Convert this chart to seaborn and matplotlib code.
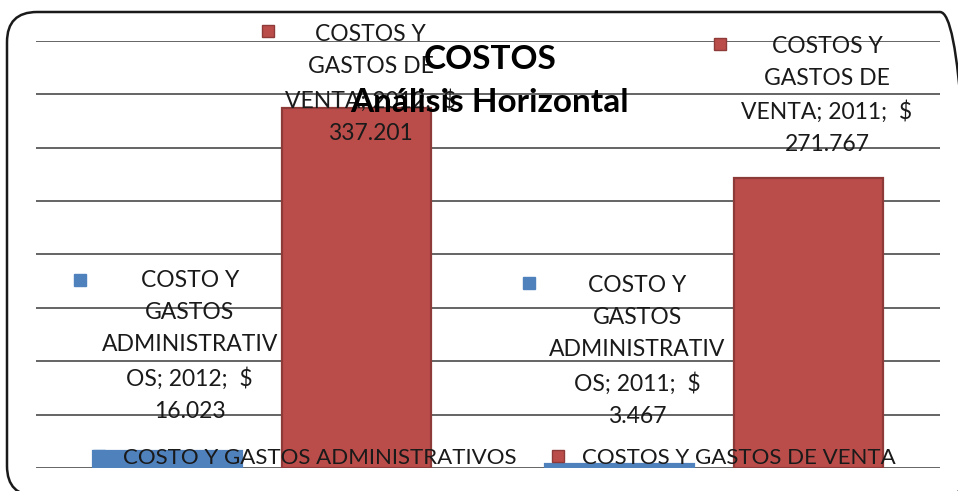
import matplotlib
matplotlib.use('Agg')
import seaborn as sns
import pandas as pd
import matplotlib.pyplot as plt
from matplotlib.lines import Line2D
from matplotlib.patches import FancyBboxPatch

# datos del grafico
anios = ['2012', '2011']
series = ['COSTO Y GASTOS ADMINISTRATIVOS', 'COSTOS Y GASTOS DE VENTA']
admin = [16.023, 3.467]
venta = [337.201, 271.767]
etiquetas_admin = ['COSTO Y\nGASTOS\nADMINISTRATIV\nOS; 2012;  $\n16.023',
                   'COSTO Y\nGASTOS\nADMINISTRATIV\nOS; 2011;  $\n3.467']
etiquetas_venta = ['COSTOS Y\nGASTOS DE\nVENTA; 2012;  $\n337.201',
                   'COSTOS Y\nGASTOS DE\nVENTA; 2011;  $\n271.767']

colores = ['#4F81BD', '#BA4D4A']
bordes = ['#4F81BD', '#8E3A38']

# donde van las etiquetas (texto centro, cuadrito) en coords de datos
pos_admin = [((-0.16, 114), (-0.403, 176)), ((0.83, 110), (0.591, 173))]
pos_venta = [((0.24, 360), (0.013, 409)), ((1.25, 349), (1.013, 397))]

df = pd.DataFrame({
    'anio': anios * 2,
    'serie': [series[0]] * 2 + [series[1]] * 2,
    'valor': admin + venta,
})

plt.rcParams['font.family'] = ['Lato', 'DejaVu Sans']
fig = plt.figure(figsize=(9.58, 4.91), dpi=100)
ax = fig.add_axes([36 / 958, 23 / 491, 904 / 958, 427 / 491])

sns.barplot(data=df, x='anio', y='valor', hue='serie', order=anios,
            hue_order=series, palette=colores, saturation=1, width=0.836,
            gap=0.21, legend=False, ax=ax, zorder=3)

for i, bar in enumerate(ax.patches):
    bar.set_edgecolor(bordes[i // 2])
    bar.set_linewidth(1.6)

ax.set_ylim(0, 400)
ax.set_xlim(-0.5, 1.5)
ax.set_yticks(range(0, 401, 50))
ax.yaxis.grid(True, color='#3a3a3a', linewidth=1.1)
ax.set_axisbelow(True)
ax.tick_params(left=False, bottom=False, labelleft=False, labelbottom=False)
ax.set_xlabel('')
ax.set_ylabel('')
for s in ax.spines.values():
    s.set_visible(False)

txt_kw = dict(ha='center', va='center', fontsize=16.5, color='#1a1a1a',
              linespacing=1.65, zorder=6, clip_on=False)
for lab, (tp, mp) in zip(etiquetas_admin, pos_admin):
    ax.text(tp[0], tp[1], lab, **txt_kw)
    ax.plot(mp[0], mp[1], marker='s', ms=9, color=colores[0],
            mec=colores[0], clip_on=False, zorder=6)
for lab, (tp, mp) in zip(etiquetas_venta, pos_venta):
    ax.text(tp[0], tp[1], lab, **txt_kw)
    ax.plot(mp[0], mp[1], marker='s', ms=9, color=colores[1],
            mec=bordes[1], clip_on=False, zorder=6)

# titulo
fig.text(490 / 958, 1 - 60 / 491, 'COSTOS', ha='center', va='center',
         fontsize=24, fontweight='bold', color='black', zorder=10)
fig.text(489 / 958, 1 - 103 / 491, 'Análisis Horizontal', ha='center',
         va='center', fontsize=24, fontweight='bold', color='black', zorder=10)

# leyenda abajo
handles = [Line2D([], [], marker='s', ls='', ms=9, color=colores[k],
                  mec=bordes[k]) for k in range(2)]
leg = fig.legend(handles, series, loc='center', ncol=2, frameon=False,
                 bbox_to_anchor=(492 / 958, 1 - 458 / 491), fontsize=16,
                 handletextpad=0.6, columnspacing=1.35, handlelength=1.0)
for t in leg.get_texts():
    t.set_color('#1a1a1a')
leg.set_zorder(8)

# marco redondeado
marco = FancyBboxPatch((0.07, -0.05), 9.63, 4.84,
                       boxstyle='round,pad=0,rounding_size=0.3',
                       transform=fig.dpi_scale_trans, fill=False,
                       edgecolor='#1a1a1a', linewidth=1.8, zorder=0)
fig.patches.append(marco)

fig.savefig('out.png', dpi=100)
